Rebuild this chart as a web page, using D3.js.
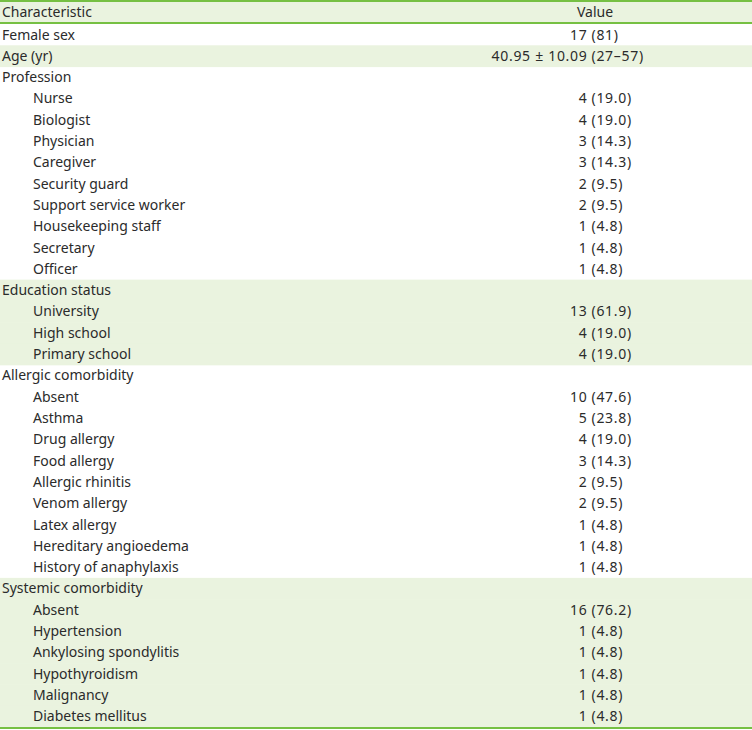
<!DOCTYPE html>
<html><head><meta charset="utf-8">
<script src="https://cdn.jsdelivr.net/npm/d3@7"></script>
<style>body{margin:0;background:#fff;}</style>
</head><body>
<script>
const headers = ["Characteristic", "Value"];
const labels = ["Female sex","Age (yr)","Profession","Nurse","Biologist","Physician","Caregiver","Security guard","Support service worker","Housekeeping staff","Secretary","Officer","Education status","University","High school","Primary school","Allergic comorbidity","Absent","Asthma","Drug allergy","Food allergy","Allergic rhinitis","Venom allergy","Latex allergy","Hereditary angioedema","History of anaphylaxis","Systemic comorbidity","Absent","Hypertension","Ankylosing spondylitis","Hypothyroidism","Malignancy","Diabetes mellitus"];
const values = ["17 (81)","40.95 ± 10.09 (27–57)","","4 (19.0)","4 (19.0)","3 (14.3)","3 (14.3)","2 (9.5)","2 (9.5)","1 (4.8)","1 (4.8)","1 (4.8)","","13 (61.9)","4 (19.0)","4 (19.0)","","10 (47.6)","5 (23.8)","4 (19.0)","3 (14.3)","2 (9.5)","2 (9.5)","1 (4.8)","1 (4.8)","1 (4.8)","","16 (76.2)","1 (4.8)","1 (4.8)","1 (4.8)","1 (4.8)","1 (4.8)"];
const subItem = [0,0,0,1,1,1,1,1,1,1,1,1,0,1,1,1,0,1,1,1,1,1,1,1,1,1,0,1,1,1,1,1,1];
const shaded = [0,1,0,0,0,0,0,0,0,0,0,0,1,1,1,1,0,0,0,0,0,0,0,0,0,0,1,1,1,1,1,1,1];

const W = 752, H = 730;
const green = "#76c043", shade = "#eaf3df", txt = "#2b2b2b";
const svg = d3.select("body").append("svg").attr("width", W).attr("height", H)
  .style("font-family", "'Noto Sans', sans-serif").style("font-size", "14px");

const headTop = 2, headH = 21, rowsTop = 24, rowsBottom = 727;
const y = d3.scaleBand().domain(d3.range(labels.length)).range([rowsTop, rowsBottom]);
const xCol = d3.scaleOrdinal().domain(["label","sub","value","paren"]).range([2, 33, 595, 591.5]);
const gap = 4;

svg.append("rect").attr("x",0).attr("y",headTop).attr("width",W).attr("height",headH).attr("fill",shade);
svg.selectAll("rect.row").data(labels).join("rect").attr("class","row")
  .attr("x",0).attr("y",(d,i)=>y(i)).attr("width",W).attr("height",y.bandwidth()+0.5)
  .attr("fill",(d,i)=>shaded[i]?shade:"none");

svg.append("text").attr("x",xCol("label")).attr("y",headTop+headH/2).attr("dy","0.35em").attr("fill",txt).text(headers[0]);
svg.append("text").attr("x",xCol("value")).attr("y",headTop+headH/2).attr("dy","0.35em").attr("text-anchor","middle").attr("fill",txt).text(headers[1]);

svg.selectAll("text.lab").data(labels).join("text").attr("class","lab")
  .attr("x",(d,i)=>subItem[i]?xCol("sub"):xCol("label")).attr("y",(d,i)=>y(i)+y.bandwidth()/2).attr("dy","0.35em")
  .attr("fill",txt).text(d=>d);

const valParts = values.map(v => {
  const k = v.lastIndexOf("(");
  return k < 0 ? null : {pre: v.slice(0, k).trim(), post: v.slice(k)};
});
const vg = svg.selectAll("g.val").data(valParts).join("g").attr("class","val")
  .attr("transform",(d,i)=>`translate(0,${y(i)+y.bandwidth()/2})`)
  .style("letter-spacing","0.7px").attr("fill",txt);
vg.filter(d=>d).append("text").attr("x",xCol("paren")-gap).attr("dy","0.35em").attr("text-anchor","end").text(d=>d.pre);
vg.filter(d=>d).append("text").attr("x",xCol("paren")).attr("dy","0.35em").attr("text-anchor","start").text(d=>d.post);

[1, 23, 728].forEach(v=>svg.append("line").attr("x1",0).attr("x2",W).attr("y1",v).attr("y2",v).attr("stroke",green).attr("stroke-width",2));
</script>
</body></html>
